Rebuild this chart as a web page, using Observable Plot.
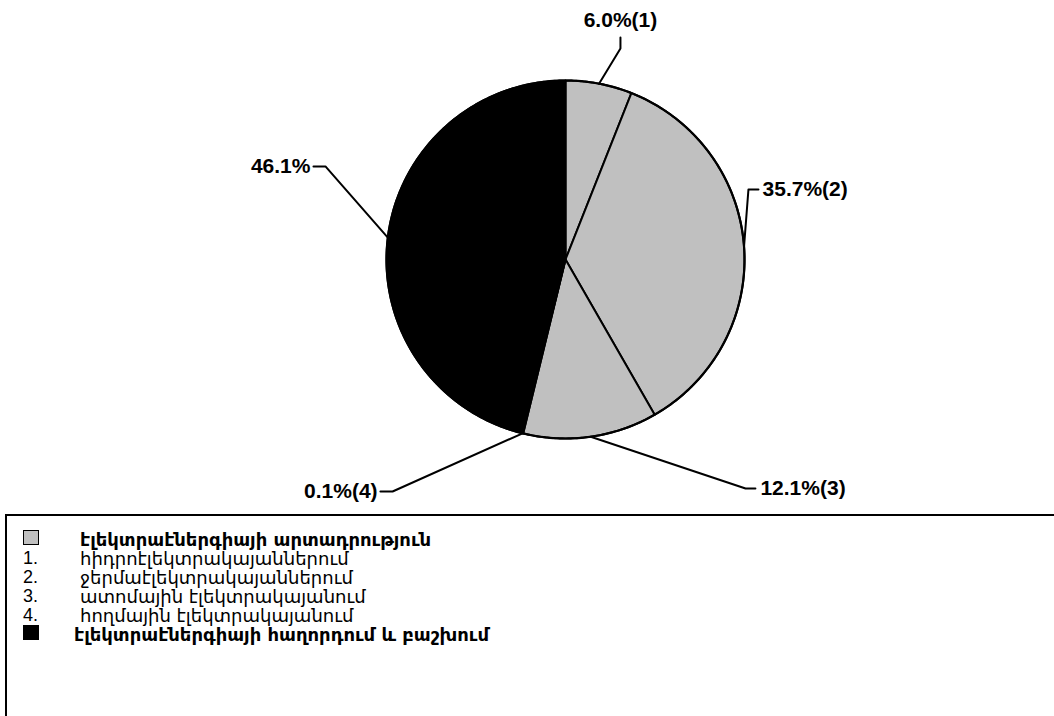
<!DOCTYPE html>
<html><head><meta charset="utf-8">
<script src="https://cdn.jsdelivr.net/npm/d3@7"></script>
<script src="https://cdn.jsdelivr.net/npm/@observablehq/plot@0.6"></script>
<style>
html,body{margin:0;padding:0;background:#fff;width:1054px;height:716px;overflow:hidden;}
#chart{position:absolute;left:0;top:0;}
#legend{position:absolute;left:5px;top:514px;width:1060px;height:220px;border-top:2px solid #000;border-left:2px solid #000;box-sizing:border-box;padding-top:14px;font-family:"DejaVu Sans",sans-serif;color:#000;}
.row{display:flex;align-items:center;height:19px;font-size:18px;}
.key{width:56px;padding-left:16px;box-sizing:border-box;font-family:"Liberation Sans",Arial,sans-serif;font-size:18px;}
.sw{display:inline-block;width:16px;height:15px;border:1px solid #000;box-sizing:border-box;}
.bold{font-weight:bold;}
</style></head><body>
<div id="chart"></div>
<div id="legend"></div>
<script>
// ---- data ----
const sliceIds = [1, 2, 3, 4, 5];
const shares = [6.0, 35.7, 12.1, 0.1, 46.1];
const sliceLabels = ["6.0%(1)", "35.7%(2)", "12.1%(3)", "0.1%(4)", "46.1%"];
const sliceGroups = ["production", "production", "production", "production", "transmission"];
const groupNames = ["production", "transmission"];
const legendTitleProduction = "էլեկտրաէներգիայի արտադրություն";
const legendNumbers = ["1.", "2.", "3.", "4."];
const legendItems = ["հիդրոէլեկտրակայաններում", "ջերմաէլեկտրակայաններում", "ատոմային էլեկտրակայանում", "հողմային էլեկտրակայանում"];
const legendTitleTransmission = "էլեկտրաէներգիայի  հաղորդում և բաշխում";

// ---- layout (in pie-radius units, relative to centre) ----
const W = 1054, H = 514, cx = 565, cy = 259, R = 179;
const labelLayout = [
  {elbow: [0.307, 1.179], end: [0.307, 1.240], text: [0.307, 1.335], anchor: "middle"},
  {elbow: [1.022, 0.391], end: [1.078, 0.391], text: [1.101, 0.391], anchor: "start"},
  {elbow: [1.006, -1.279], end: [1.061, -1.279], text: [1.089, -1.279], anchor: "start"},
  {elbow: [-0.966, -1.296], end: [-1.034, -1.296], text: [-1.050, -1.296], anchor: "end"},
  {elbow: [-1.341, 0.520], end: [-1.408, 0.520], text: [-1.425, 0.520], anchor: "end"}
];
const colors = ["#c0c0c0", "#000000"];

// ---- geometry from data ----
const total = d3.sum(shares);
let acc = 0;
const polys = [], mids = [];
shares.forEach((v, i) => {
  const a0 = acc / total * 2 * Math.PI, a1 = (acc + v) / total * 2 * Math.PI;
  acc += v;
  const n = Math.max(2, Math.ceil((a1 - a0) / (Math.PI / 360)));
  polys.push({id: sliceIds[i], g: sliceGroups[i], x: 0, y: 0});
  for (let k = 0; k <= n; k++) {
    const a = a0 + (a1 - a0) * k / n;
    polys.push({id: sliceIds[i], g: sliceGroups[i], x: Math.sin(a), y: Math.cos(a)});
  }
  mids.push((a0 + a1) / 2);
});
const leaders = [];
const texts = [];
mids.forEach((a, i) => {
  const L = labelLayout[i];
  leaders.push({id: i, x: Math.sin(a), y: Math.cos(a)});
  leaders.push({id: i, x: L.elbow[0], y: L.elbow[1]});
  leaders.push({id: i, x: L.end[0], y: L.end[1]});
  texts.push({label: sliceLabels[i], x: L.text[0], y: L.text[1], anchor: L.anchor});
});

const outline = d3.range(0, 361).map(d => ({x: Math.sin(d * Math.PI / 180), y: Math.cos(d * Math.PI / 180)}));

const chart = Plot.plot({
  width: W, height: H, margin: 0,
  style: {background: "#fff"},
  x: {domain: [-cx / R, (W - cx) / R], axis: null},
  y: {domain: [-(H - cy) / R, cy / R], axis: null},
  color: {domain: groupNames, range: colors},
  marks: [
    Plot.line(polys, {x: "x", y: "y", z: "id", fill: "g", stroke: "#000", strokeWidth: 2, curve: "linear-closed", strokeLinejoin: "round"}),
    Plot.line(outline, {x: "x", y: "y", stroke: "#000", strokeWidth: 2.2}),
    Plot.line(leaders, {x: "x", y: "y", z: "id", stroke: "#000", strokeWidth: 2}),
    ...["start", "middle", "end"].map(an => Plot.text(texts.filter(t => t.anchor === an), {
      x: "x", y: "y", text: "label", textAnchor: an, lineAnchor: "middle",
      fontFamily: "Liberation Sans, Arial, sans-serif", fontWeight: "bold", fontSize: 21, fill: "#000"
    }))
  ]
});
document.getElementById("chart").appendChild(chart);

// ---- legend ----
const lg = document.getElementById("legend");
function row(keyHtml, text, bold, pad) {
  const r = document.createElement("div");
  r.className = "row";
  const k = document.createElement("div");
  k.className = "key";
  k.innerHTML = keyHtml;
  const t = document.createElement("div");
  t.textContent = text;
  if (bold) t.className = "bold";
  if (pad) t.style.paddingLeft = pad + "px";
  r.appendChild(k); r.appendChild(t);
  lg.appendChild(r);
}
row(`<span class="sw" style="background:${colors[0]}"></span>`, legendTitleProduction, true, 17);
legendItems.forEach((t, i) => row(legendNumbers[i], t, false, 17));
row(`<span class="sw" style="background:${colors[1]}"></span>`, legendTitleTransmission, true, 11);
</script>
</body></html>
